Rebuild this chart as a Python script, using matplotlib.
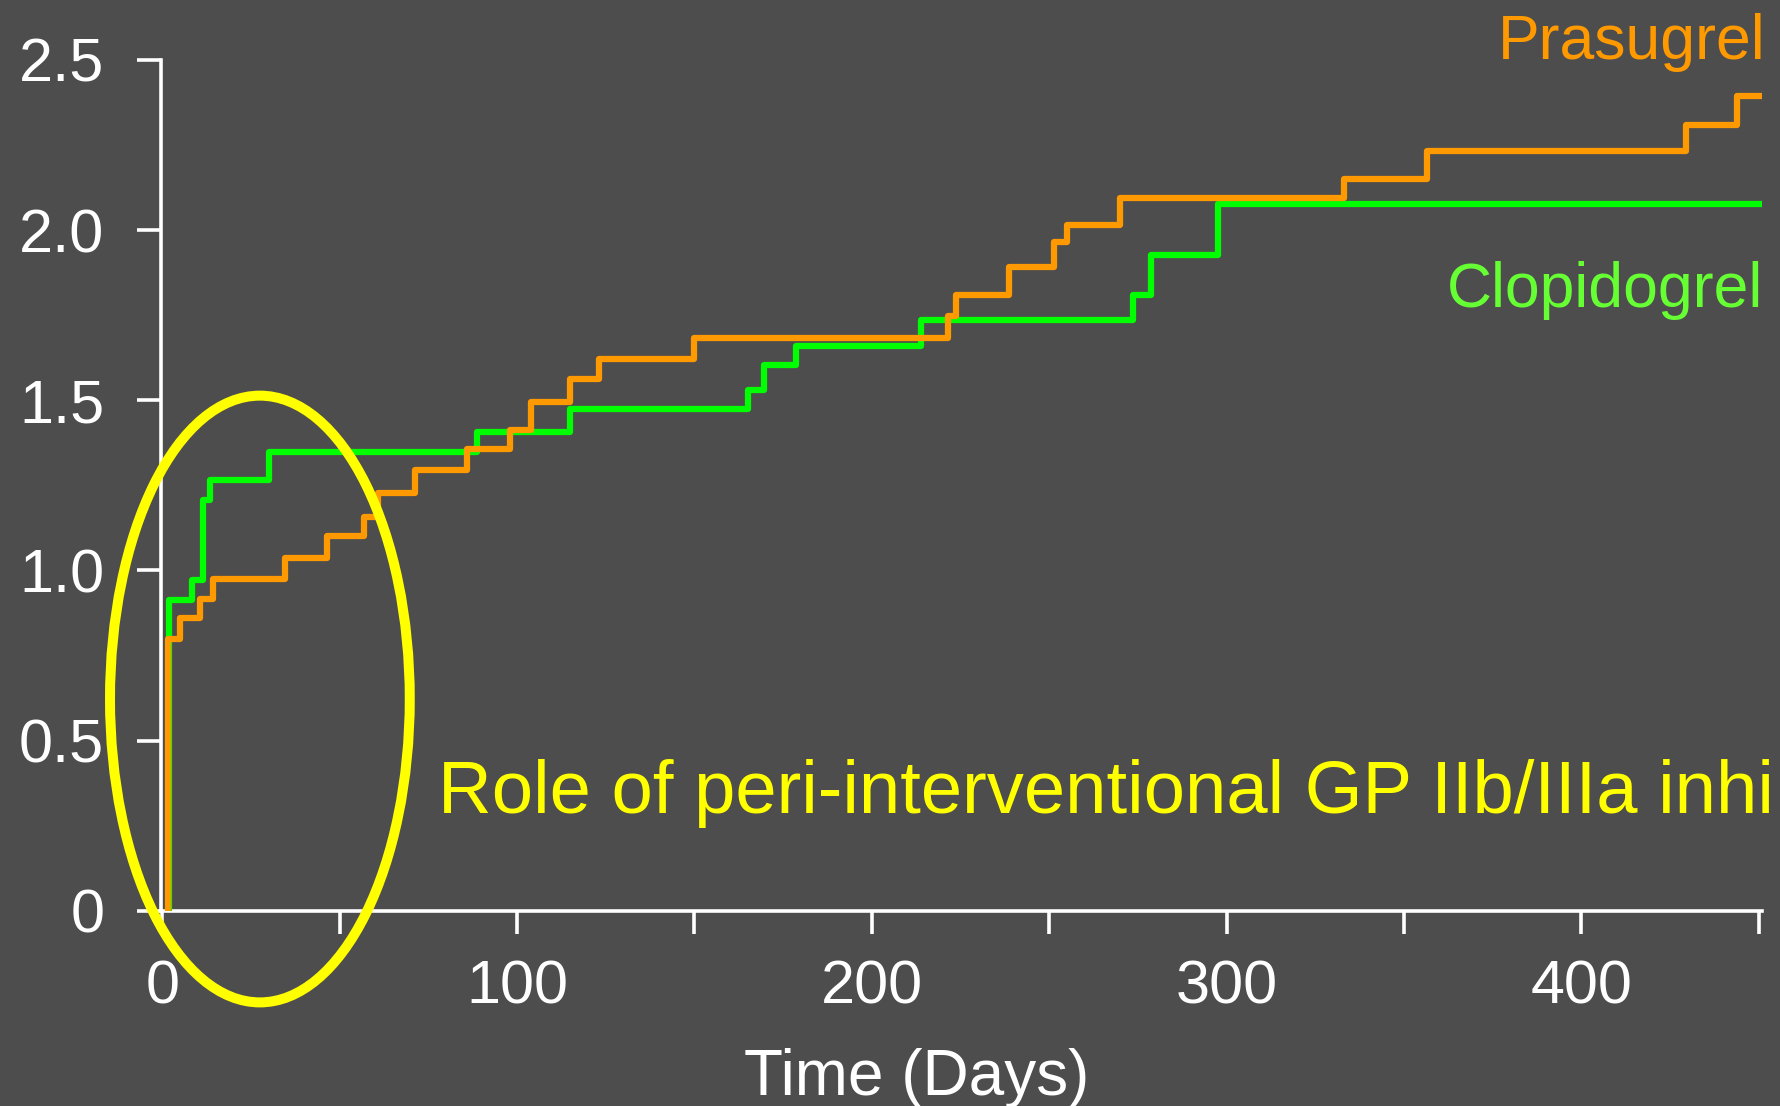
import numpy as np
import matplotlib
matplotlib.use('Agg')
import matplotlib.pyplot as plt
from matplotlib.patches import Ellipse

plt.rcParams['font.family'] = ['Liberation Sans', 'DejaVu Sans']

# event times (days) and cumulative level after each step
clop_days = [1.8, 8.5, 11.4, 13.5, 30.0, 88.6, 115.0, 165.0, 169.5, 178.5, 214.0, 273.5, 278.8, 297.5]
clop_vals = [0.913, 0.973, 1.207, 1.265, 1.347, 1.407, 1.473, 1.531, 1.603, 1.658, 1.736, 1.808, 1.928, 2.078]
clop_end = 451.0

pras_days = [1.5, 5.0, 10.5, 14.4, 34.5, 46.3, 56.8, 60.8, 71.3, 85.9, 97.9, 104.0, 114.8, 123.2,
             149.8, 221.6, 223.6, 238.8, 251.5, 255.0, 270.1, 333.0, 356.5, 429.6, 444.0]
pras_vals = [0.798, 0.86, 0.916, 0.974, 1.037, 1.10, 1.156, 1.228, 1.295, 1.358, 1.413, 1.495, 1.561, 1.622,
             1.684, 1.747, 1.81, 1.891, 1.964, 2.015, 2.094, 2.15, 2.232, 2.31, 2.393]
pras_end = 450.4

yticks = [0, 0.5, 1.0, 1.5, 2.0, 2.5]
ytick_labels = ['0', '0.5', '1.0', '1.5', '2.0', '2.5']
xticks = [0, 100, 200, 300, 400]
xticks_minor = [50, 150, 250, 350, 450]

bg = '#4d4d4d'
orange = '#ff9900'
green = '#00ff00'
yellow = '#ffff00'


def stepline(days, vals, end):
    x = np.r_[days[0], days, end]
    y = np.r_[0, vals, vals[-1]]
    return x, y


fig = plt.figure(figsize=(17.8, 11.06), dpi=100, facecolor=bg)
ax = fig.add_axes([0.0902, 0.1766, 0.8998, 0.7692])
ax.set_facecolor(bg)

x, y = stepline(clop_days, clop_vals, clop_end)
ax.step(x, y, where='post', color=green, lw=4.5, zorder=3)
x, y = stepline(pras_days, pras_vals, pras_end)
ax.step(x, y, where='post', color=orange, lw=4.5, zorder=4)

ax.set_xlim(-0.5, 451)
ax.set_ylim(0, 2.5)

for s in ['top', 'right']:
    ax.spines[s].set_visible(False)
for s in ['left', 'bottom']:
    ax.spines[s].set_color('white')
    ax.spines[s].set_linewidth(2.6)

ax.set_yticks(yticks)
ax.set_yticklabels(ytick_labels)
ax.set_xticks(xticks)
ax.set_xticks(xticks_minor, minor=True)
ax.tick_params(axis='y', colors='white', labelsize=44, length=17.5, width=2.6, pad=23)
ax.tick_params(axis='x', which='both', colors='white', labelsize=44, length=16.5, width=2.6, pad=19)

ax.set_xlabel('Time (Days)', fontsize=46, color='white')
ax.xaxis.set_label_coords(0.472, -0.217)
ax.xaxis.label.set_verticalalignment('baseline')

ax.text(451.8, 2.503, 'Prasugrel', color=orange, fontsize=45, ha='right', va='baseline', clip_on=False)
ax.text(451.4, 1.773, 'Clopidogrel', color='#66ff33', fontsize=45, ha='right', va='baseline', clip_on=False)

ax.add_patch(Ellipse((27.5, 0.622), 84.5, 1.783, fill=False, edgecolor=yellow, lw=7.2,
                     clip_on=False, zorder=5))
ax.text(77.7, 0.287, 'Role of peri-interventional GP IIb/IIIa inhi', color=yellow,
        fontsize=53.5, ha='left', va='baseline', clip_on=False, zorder=6)

plt.savefig('out.png', dpi=100, facecolor=bg)
